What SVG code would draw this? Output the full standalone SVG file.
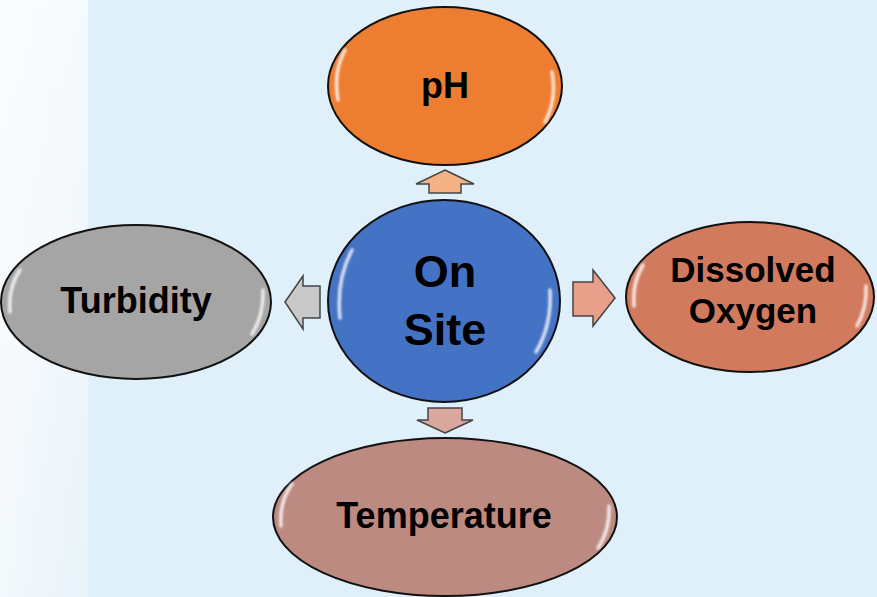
<svg xmlns="http://www.w3.org/2000/svg" width="877" height="597" viewBox="0 0 877 597">
<defs>
<linearGradient id="bgL" x1="0" y1="0" x2="0" y2="1">
<stop offset="0" stop-color="#f7fafd"/>
<stop offset="1" stop-color="#e8f3fa"/>
</linearGradient>
<linearGradient id="bgL2" x1="0" y1="0" x2="1" y2="0">
<stop offset="0" stop-color="#ffffff" stop-opacity="0.5"/>
<stop offset="1" stop-color="#ffffff" stop-opacity="0"/>
</linearGradient>
<filter id="blur" x="-50%" y="-50%" width="200%" height="200%"><feGaussianBlur stdDeviation="1.2"/></filter>
</defs>
<style>
.node{stroke:#111;stroke-width:2}
.lbl{font-family:"Liberation Sans",Arial,sans-serif;font-weight:bold;fill:#000;text-anchor:middle}
.hl{fill:none;stroke:#fff;stroke-width:3.5;stroke-linecap:round;opacity:0.8;filter:url(#blur)}
.arr{stroke:#444;stroke-width:1.5;stroke-linejoin:miter}
</style>
<rect x="0" y="0" width="877" height="597" fill="#dff0fb"/>
<rect x="0" y="0" width="88" height="597" fill="url(#bgL)"/>
<rect x="0" y="0" width="88" height="597" fill="url(#bgL2)"/>

<g id="connectors">
<polygon class="arr" fill="#f4b183" points="445,170 474,184 461,184 461,193 429,193 429,184 416,184"/>
<polygon class="arr" fill="#c9c9c9" points="285,302 303,276 303,286 320,286 320,318 303,318 303,329"/>
<polygon class="arr" fill="#e8a08a" points="615,298 593,270 593,282 573,282 573,316 593,316 593,326"/>
<polygon class="arr" fill="#d9a79e" points="445,433 473,420 462,420 462,408 428,408 428,420 417,420"/>
</g>

<g id="ph">
<ellipse class="node" cx="445" cy="86" rx="117" ry="79" fill="#ed7d31"/>
<path class="hl" d="M345,50 Q333,72 338,100"/>
<path class="hl" d="M552,72 Q557,100 545,122"/>
<text class="lbl" x="445" y="98" font-size="36">pH</text>
</g>

<g id="onsite">
<ellipse class="node" cx="444" cy="301" rx="116" ry="101" fill="#4472c4"/>
<path class="hl" d="M352,250 Q336,280 340,318"/>
<path class="hl" d="M550,290 Q552,325 536,352"/>
<text class="lbl" x="445" y="287" font-size="45">On</text>
<text class="lbl" x="445" y="345" font-size="45">Site</text>
</g>

<g id="turbidity">
<ellipse class="node" cx="136" cy="302" rx="135" ry="77" fill="#a5a5a5"/>
<path class="hl" d="M20,270 Q8,288 10,312"/>
<path class="hl" d="M263,290 Q264,315 252,334"/>
<text class="lbl" x="136" y="313" font-size="36">Turbidity</text>
</g>

<g id="oxygen">
<ellipse class="node" cx="750" cy="297" rx="124" ry="75" fill="#d27a5e"/>
<path class="hl" d="M643,265 Q632,283 634,306"/>
<path class="hl" d="M866,286 Q867,308 857,326"/>
<text class="lbl" x="753" y="282" font-size="35">Dissolved</text>
<text class="lbl" x="753" y="323" font-size="35">Oxygen</text>
</g>

<g id="temperature">
<ellipse class="node" cx="445" cy="517" rx="172" ry="79" fill="#bc8a80"/>
<path class="hl" d="M292,484 Q279,502 281,526"/>
<path class="hl" d="M609,506 Q610,530 598,548"/>
<text class="lbl" x="444" y="528" font-size="36">Temperature</text>
</g>
</svg>
